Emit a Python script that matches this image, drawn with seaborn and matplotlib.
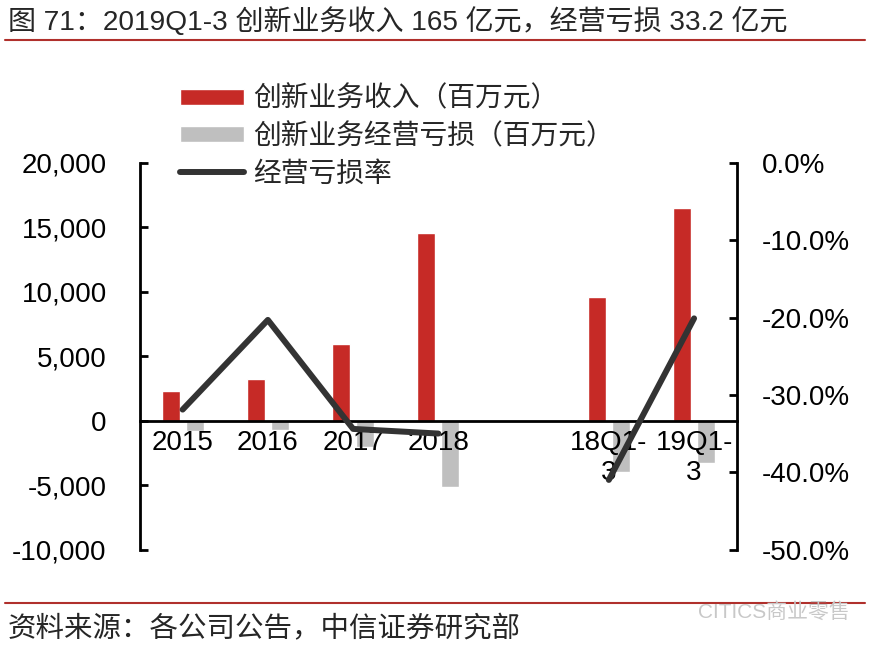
import numpy as np
import pandas as pd
import matplotlib
matplotlib.use("Agg")
import matplotlib.pyplot as plt
import seaborn as sns
from matplotlib.lines import Line2D
from matplotlib.ticker import FuncFormatter, MultipleLocator

# data
categories = ["2015", "2016", "2017", "2018", "", "18Q1-3", "19Q1-3"]
tick_labels = ["2015", "2016", "2017", "2018", "", "18Q1-\n3", "19Q1-\n3"]
revenue = [2300, 3250, 5950, 14600, np.nan, 9600, 16500]      # 百万元
op_loss = [-780, -700, -2050, -5150, np.nan, -4000, -3320]    # 百万元
loss_rate = [-0.319, -0.203, -0.344, -0.350, np.nan, -0.410, -0.201]
segment = [0, 0, 0, 0, 0, 1, 1]

rev_name = "创新业务收入（百万元）"
loss_name = "创新业务经营亏损（百万元）"
rate_name = "经营亏损率"
title = "图 71：2019Q1-3 创新业务收入 165 亿元，经营亏损 33.2 亿元"
source = "资料来源：各公司公告，中信证券研究部"

red = "#C62A26"
gray = "#BFBFBF"
dark = "#333333"
rule = "#B0302C"

sns.set_style("white")
plt.rcParams["font.family"] = ["Liberation Sans", "Noto Sans CJK SC"]

bars = pd.DataFrame({
    "cat": categories * 2,
    "value": revenue + op_loss,
    "series": [rev_name] * len(categories) + [loss_name] * len(categories),
})
line_df = pd.DataFrame({"x": np.arange(len(categories)), "rate": loss_rate, "seg": segment}).dropna()

fig = plt.figure(figsize=(8.7, 6.5), dpi=100)
ax = fig.add_axes([140 / 870, 1 - 549.5 / 650, (736.7 - 140) / 870, (549.5 - 163) / 650])

sns.barplot(data=bars, x="cat", y="value", hue="series", order=categories,
            hue_order=[rev_name, loss_name], palette=[red, gray], saturation=1,
            width=0.56, gap=0.25, errorbar=None, ax=ax)
handles, labels = ax.get_legend_handles_labels()
ax.get_legend().remove()
ax.set_axisbelow(False)

ax2 = ax.twinx()
sns.lineplot(data=line_df, x="x", y="rate", units="seg", estimator=None,
             color=dark, lw=4.3, legend=False, ax=ax2)
handles.append(ax2.lines[0])
labels.append(rate_name)

ax.set_xlim(-0.5, len(categories) - 0.5)
ax.set_ylim(-10000, 20000)
ax.yaxis.set_major_locator(MultipleLocator(5000))
ax.yaxis.set_major_formatter(FuncFormatter(lambda v, _: f"{v:,.0f}"))
ax2.set_ylim(-0.5, 0)
ax2.yaxis.set_major_locator(MultipleLocator(0.1))
ax2.yaxis.set_major_formatter(FuncFormatter(lambda v, _: f"{v:.1%}".replace("-0.0%", "0.0%")))

ax.set_xticks(range(len(categories)))
ax.set_xticklabels(tick_labels)
for lab in ax.get_xticklabels():
    lab.set_linespacing(1.45)
for a in (ax, ax2):
    a.set_xlabel("")
    a.set_ylabel("")

ax.spines["top"].set_visible(False)
ax.spines["right"].set_visible(False)
ax.spines["bottom"].set_position(("data", 0))
for s in ("top", "bottom", "left"):
    ax2.spines[s].set_visible(False)
for s in ("left", "bottom"):
    ax.spines[s].set_linewidth(2)
    ax.spines[s].set_color("black")
ax2.spines["right"].set_linewidth(2)
ax2.spines["right"].set_color("black")

ax.tick_params(axis="y", direction="in", length=6, width=2, labelsize=20, pad=24, colors="black")
ax.tick_params(axis="x", length=0, labelsize=20, pad=7, colors="black")
ax2.tick_params(axis="y", direction="in", length=6, width=2, labelsize=20, pad=18, colors="black")

fig.legend(handles, labels, loc="upper left", bbox_to_anchor=(180 / 870, 1 - 86 / 650),
           bbox_transform=fig.transFigure, frameon=False, fontsize=20, borderpad=0,
           borderaxespad=0, handlelength=2.3, handleheight=0.5, handletextpad=0.35,
           labelspacing=0.4)

# header / footer
fig.text(8 / 870, 1 - 22 / 650, title, fontsize=20.2, ha="left", va="center")
fig.add_artist(Line2D([5 / 870, 865 / 870], [1 - 40 / 650] * 2, color=rule, lw=1.5))
fig.add_artist(Line2D([5 / 870, 865 / 870], [1 - 603 / 650] * 2, color=rule, lw=1.5))
fig.text(8 / 870, 1 - 630 / 650, source, fontsize=20.5, ha="left", va="center")
fig.text(698 / 870, 1 - 612 / 650, "CITICS商业零售", fontsize=15, color="#C8C8C8",
         ha="left", va="center")

fig.savefig("out.png", dpi=100)
